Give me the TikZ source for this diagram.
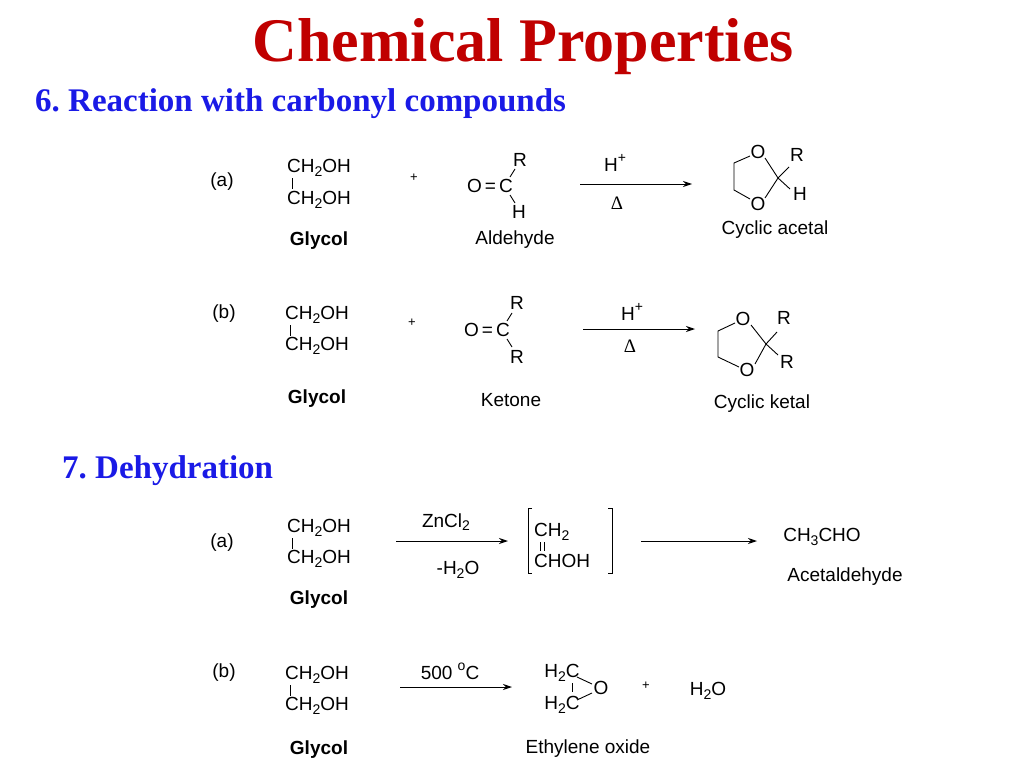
\documentclass[tikz,border=0pt]{standalone}
\usepackage{fontspec}
\setmainfont{Liberation Sans}
\newfontfamily\serifont{Liberation Serif}
\usetikzlibrary{arrows.meta}
\definecolor{titlered}{HTML}{C00000}
\definecolor{headblue}{HTML}{1A1AE6}
\newcommand{\chsb}[1]{\raisebox{-0.35ex}{\fontsize{14}{16}\selectfont #1}}
\newcommand{\chsp}[1]{\raisebox{0.9ex}{\fontsize{14}{16}\selectfont #1}}
\frenchspacing
\tikzset{
  chem/.style={inner sep=0pt, font=\fontsize{19}{22}\selectfont},
  lbl/.style={inner sep=0pt, font=\fontsize{19}{22}\selectfont},
  bold/.style={inner sep=0pt, font=\fontsize{19}{22}\selectfont\bfseries},
  plus/.style={inner sep=0pt, font=\fontsize{13}{15}\selectfont},
  bond/.style={line width=0.9pt},
  rxn/.style={line width=1pt, -{Stealth[length=9pt,width=6pt]}},
  title/.style={inner sep=0pt, font=\fontsize{62}{66}\selectfont\serifont\bfseries, text=titlered},
  head/.style={inner sep=0pt, anchor=west, font=\fontsize{33}{36}\selectfont\serifont\bfseries, text=headblue},
}
\begin{document}
\begin{tikzpicture}[x=1pt,y=-1pt]
\useasboundingbox (0,0) rectangle (1024,768);
\node[title] (t) at (523,47) {Chemical Properties};
\node[head] (h6) at (35,104) {6. Reaction with carbonyl compounds};
\node[head] (h7) at (62,471) {7. Dehydration};

% ---- 6(a)
\node[lbl] (a1) at (222,182) {(a)};
\node[chem,anchor=west] (g1) at (287,168) {CH\chsb{2}OH};
\node[chem,anchor=west] (g2) at (287,200) {CH\chsb{2}OH};
\draw[bond] (292,178) -- (292,189);
\node[plus] (p1) at (414,178) {+};
\node[chem] (ar) at (520,160) {R};
\node[chem] (aoc) at (490,186) {O\,=\,C};
\node[chem] (ah) at (519,212) {H};
\draw[bond] (510,177) -- (515,169);
\draw[bond] (510,195) -- (515,203);
\coordinate (ra1) at (580,184); \coordinate (ra2) at (692,184);
\draw[rxn] (ra1) -- (ra2);
\node[chem] (hp1) at (615,163) {H\chsp{+}};
\node[chem] (d1) at (617,203) {\serifont Δ};
\node[chem] (o1) at (758,152) {O};
\node[chem] (o2) at (758,204) {O};
\coordinate (c1) at (778,178);
\coordinate (l1) at (734,163);
\coordinate (l2) at (734,190);
\draw[bond] (750,156) -- (l1) -- (l2) -- (750,199);
\draw[bond] (765,158) -- (c1) -- (765,198);
\draw[bond] (c1) -- (789,167);
\draw[bond] (c1) -- (790,189);
\node[chem] (r1) at (797,155) {R};
\node[chem] (hh1) at (800,194) {H};
\node[lbl] (ca) at (775,230) {Cyclic acetal};
\node[bold] (gl1) at (319,241) {Glycol};
\node[lbl] (al) at (515,240) {Aldehyde};

% ---- 6(b)
\node[lbl] (b1) at (224,314) {(b)};
\node[chem,anchor=west] (g3) at (285,315) {CH\chsb{2}OH};
\node[chem,anchor=west] (g4) at (285,346) {CH\chsb{2}OH};
\draw[bond] (290,325) -- (290,336);
\node[plus] (p2) at (412,323) {+};
\node[chem] (kr1) at (517,303) {R};
\node[chem] (koc) at (487,330) {O\,=\,C};
\node[chem] (kr2) at (517,357) {R};
\draw[bond] (507,321) -- (512,313);
\draw[bond] (507,339) -- (512,347);
\coordinate (rb1) at (583,329); \coordinate (rb2) at (695,329);
\draw[rxn] (rb1) -- (rb2);
\node[chem] (hp2) at (632,312) {H\chsp{+}};
\node[chem] (d2) at (630,346) {\serifont Δ};
\node[chem] (o3) at (743,319) {O};
\node[chem] (o4) at (747,370) {O};
\coordinate (c2) at (766,344);
\coordinate (l3) at (718,331);
\coordinate (l4) at (718,357);
\draw[bond] (735,323) -- (l3) -- (l4) -- (739,367);
\draw[bond] (751,325) -- (c2) -- (755,364);
\draw[bond] (c2) -- (777,332);
\draw[bond] (c2) -- (778,355);
\node[chem] (r2) at (784,318) {R};
\node[chem] (r3) at (787,362) {R};
\node[bold] (gl2) at (317,399) {Glycol};
\node[lbl] (ke) at (511,400) {Ketone};
\node[lbl] (ck) at (762,404) {Cyclic ketal};

% ---- 7(a)
\node[lbl] (c7a) at (222,543) {(a)};
\node[chem,anchor=west] (g5) at (287,528) {CH\chsb{2}OH};
\node[chem,anchor=west] (g6) at (287,559) {CH\chsb{2}OH};
\draw[bond] (292,538) -- (292,549);
\coordinate (da1) at (396,541); \coordinate (da2) at (508,541);
\draw[rxn] (da1) -- (da2);
\node[chem] (zn) at (446,522) {ZnCl\chsb{2}};
\node[chem] (mw) at (458,570) {-H\chsb{2}O};
\draw[bond] (532,508) -- (528,508) -- (528,573) -- (532,573);
\draw[bond] (608,508) -- (612,508) -- (612,573) -- (608,573);
\node[chem,anchor=west] (ch2) at (534,532) {CH\chsb{2}};
\node[chem,anchor=west] (choh) at (534,561) {CHOH};
\draw[bond] (540,542) -- (540,551);
\draw[bond] (544,542) -- (544,551);
\coordinate (db1) at (641,541); \coordinate (db2) at (757,541);
\draw[rxn] (db1) -- (db2);
\node[chem] (ac) at (822,537) {CH\chsb{3}CHO};
\node[lbl] (acl) at (845,577) {Acetaldehyde};
\node[bold] (gl3) at (319,600) {Glycol};

% ---- 7(b)
\node[lbl] (c7b) at (224,673) {(b)};
\node[chem,anchor=west] (g7) at (285,675) {CH\chsb{2}OH};
\node[chem,anchor=west] (g8) at (285,706) {CH\chsb{2}OH};
\draw[bond] (290,685) -- (290,696);
\coordinate (dc1) at (400,687); \coordinate (dc2) at (512,687);
\draw[rxn] (dc1) -- (dc2);
\node[chem] (tmp) at (450,671) {500 \chsp{o}C};
\node[chem] (e1) at (562,673) {H\chsb{2}C};
\node[chem] (e2) at (562,705) {H\chsb{2}C};
\node[chem] (eo) at (601,688) {O};
\draw[bond] (577,677) -- (592,684);
\draw[bond] (577,700) -- (592,693);
\draw[bond] (572,683) -- (572,692);
\node[plus] (p3) at (646,686) {+};
\node[chem] (w) at (708,691) {H\chsb{2}O};
\node[bold] (gl4) at (319,750) {Glycol};
\node[lbl] (eol) at (588,749) {Ethylene oxide};
\end{tikzpicture}
\end{document}
